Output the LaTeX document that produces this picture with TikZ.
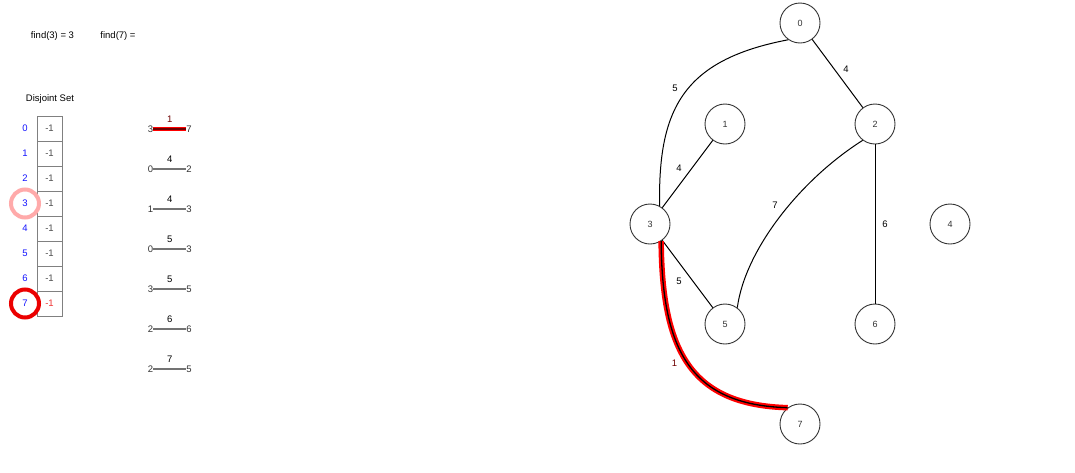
\documentclass[tikz,border=0pt]{standalone}
\usepackage{fontspec}
\setmainfont{Liberation Sans}
\usetikzlibrary{positioning}

\definecolor{idxblue}{RGB}{20,20,255}
\definecolor{ringpink}{RGB}{255,170,170}
\definecolor{ringred}{RGB}{235,0,0}
\definecolor{darkred}{RGB}{110,0,0}

\begin{document}
\begin{tikzpicture}[x=1pt, y=-1pt,
  txt/.style={inner sep=0pt, font=\fontsize{9.5}{11}\selectfont},
  cell/.style={draw=black!50, line width=0.8pt, minimum width=25pt, minimum height=25pt,
    inner sep=0pt, font=\fontsize{9.5}{11}\selectfont, text=black!70},
  idx/.style={inner sep=0pt, text=idxblue, font=\fontsize{9.5}{11}\selectfont},
  ring/.style={circle, draw, line width=4pt, minimum size=28pt, inner sep=0pt},
  endlabel/.style={inner sep=0pt, text=black!80, font=\fontsize{9.5}{11}\selectfont},
  listedge/.style={draw=black!55, line width=1.6pt},
  vertex/.style={circle, draw=black!80, line width=0.9pt, minimum size=40pt, inner sep=0pt,
    text=black!80, font=\fontsize{9}{10}\selectfont},
  gedge/.style={draw=black, line width=1pt},
  wlabel/.style={inner sep=0pt, font=\fontsize{9.5}{11}\selectfont},
]
\useasboundingbox (0,0) rectangle (1075,472);

% find results
\node[txt] (find3) at (52.5,36) {find(3) = 3};
\node[txt] (find7) at (118,36) {find(7) =};

% disjoint set array
\node[txt] (title) at (50,99) {Disjoint Set};
\foreach \i in {0,...,6} {
  \node[cell] (c\i) at (49.5,128.5+25*\i) {-1};
  \node[idx] (i\i) at (25,128.5+25*\i) {\i};
}
\node[cell, text=ringred!80] (c7) at (49.5,303.5) {-1};
\node[idx] (i7) at (25,303.5) {7};
\node[ring, draw=ringpink] (ring3) at (i3) {};
\node[ring, draw=ringred] (ring7) at (i7) {};

% sorted edge list
\node[endlabel] (ea0) at (150.5,129) {3};
\node[endlabel] (eb0) at (189,129) {7};
\draw[red, line width=4pt] (ea0) -- (eb0);
\draw[darkred, line width=1.8pt] (ea0) -- (eb0)
  node[midway, above=6pt, wlabel, text=darkred] (w0) {1};
\foreach \a/\b/\w [count=\k] in {0/2/4, 1/3/4, 0/3/5, 3/5/5, 2/6/6, 2/5/7} {
  \node[endlabel] (ea\k) at (150.5,129+40*\k) {\a};
  \node[endlabel] (eb\k) at (189,129+40*\k) {\b};
  \draw[listedge] (ea\k) -- (eb\k) node[midway, above=6pt, wlabel] (w\k) {\w};
}

% graph
\node[vertex] (n0) at (800,23) {0};
\node[vertex] (n1) at (725,124) {1};
\node[vertex] (n2) at (875,124) {2};
\node[vertex] (n3) at (650,224) {3};
\node[vertex] (n4) at (950,224) {4};
\node[vertex] (n5) at (725,324) {5};
\node[vertex] (n6) at (875,324) {6};
\node[vertex] (n7) at (800,424) {7};

\draw[gedge] (n0) -- (n2);
\draw[gedge] (n0.235) .. controls (682,60) and (658,110) .. (n3.62);
\draw[gedge] (n1) -- (n3);
\draw[gedge] (n2.233) .. controls (800,180) and (745,250) .. (n5.53);
\draw[gedge] (n2) -- (n6);
\draw[gedge] (n3) -- (n5);
\draw[red, line width=5.5pt] (n3.303) .. controls (662,350) and (690,405) .. (n7.127);
\draw[gedge, line width=1.3pt] (n3.303) .. controls (662,350) and (690,405) .. (n7.127);

\node[wlabel] (l02) at (846,69) {4};
\node[wlabel] (l03) at (675,88) {5};
\node[wlabel] (l13) at (679,168) {4};
\node[wlabel] (l25) at (775,205.5) {7};
\node[wlabel] (l26) at (885,224) {6};
\node[wlabel] (l35) at (679,281) {5};
\node[wlabel, text=darkred] (l37) at (674.5,363) {1};
\end{tikzpicture}
\end{document}
